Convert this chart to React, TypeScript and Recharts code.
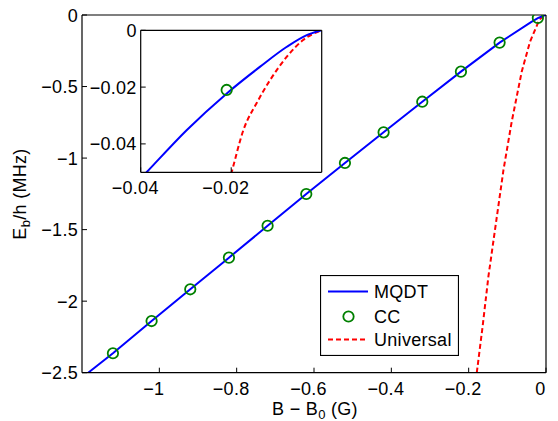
import { ComposedChart, Line, Scatter, XAxis, YAxis, Legend } from 'recharts';

// B - B0 (G) and Eb/h (MHz)
const mqdtB = [-1.184, -1.12, -1.02, -0.92, -0.82, -0.72, -0.62, -0.52, -0.42, -0.32, -0.22, -0.12, -0.0387, -0.0298, -0.0211, -0.0136, -0.0077, -0.0033, 0];
const mqdtE = [-2.5, -2.364, -2.139, -1.917, -1.696, -1.473, -1.251, -1.034, -0.82, -0.606, -0.396, -0.193, -0.05, -0.0351, -0.0224, -0.0128, -0.0058, -0.0017, 0];

const ccB = [-1.12, -1.02, -0.92, -0.82, -0.72, -0.62, -0.52, -0.42, -0.32, -0.22, -0.12, -0.021];
const ccE = [-2.364, -2.139, -1.917, -1.696, -1.473, -1.251, -1.034, -0.82, -0.606, -0.396, -0.193, -0.021];

const uniB = [-0.179, -0.164, -0.149, -0.132, -0.11, -0.0887, -0.0628, -0.0414, -0.0199, -0.0173, -0.0144, -0.0114, -0.0077, -0.0041, 0];
const uniE = [-2.5, -2.178, -1.829, -1.503, -1.083, -0.746, -0.396, -0.187, -0.05, -0.0351, -0.0257, -0.0175, -0.0093, -0.0034, 0];

const mainXTicks = [-1, -0.8, -0.6, -0.4, -0.2, 0];
const mainYTicks = [-2.5, -2, -1.5, -1, -0.5, 0];
const insetXTicks = [-0.04, -0.02];
const insetYTicks = [-0.04, -0.02, 0];

const FONT = 'Liberation Sans, Arial, Helvetica, sans-serif';
const FS = 18;

const toPts = (xs: number[], ys: number[]) => xs.map((x, i) => ({ x, y: ys[i] }));
const mqdt = toPts(mqdtB, mqdtE);
const cc = toPts(ccB, ccE);
const uni = toPts(uniB, uniE);
const ccInset = cc.filter(p => p.x >= -0.04);

function fmt(v: number): string {
  return v === 0 ? '0' : '\u2212' + Math.abs(v);
}

const txt = { fontFamily: FONT, fontSize: FS, fill: '#000', letterSpacing: 0.3 };

function makeXTick(drop: number) {
  return (p: any) => (
    <text x={p.x - 5.5} y={p.y + drop} textAnchor="middle" style={txt}>{fmt(p.payload.value)}</text>
  );
}
function YTick(p: any) {
  return (
    <text x={p.x - 4} y={p.y + 6.5} textAnchor="end" style={txt}>{fmt(p.payload.value)}</text>
  );
}

const circle = (p: any) => (
  <circle cx={p.cx} cy={p.cy} r={5.2} fill="none" stroke="#008000" strokeWidth={1.8} />
);

function LegendBox() {
  const rows = [16.5, 41.5, 64.5];
  return (
    <svg width={139} height={81} style={{ display: 'block' }}>
      <rect x={0.5} y={0.5} width={138} height={80} fill="#fff" stroke="#000" strokeWidth={1.2} />
      <line x1={8} x2={48} y1={rows[0]} y2={rows[0]} stroke="#0000ff" strokeWidth={2} />
      <circle cx={28.5} cy={rows[1]} r={5.2} fill="none" stroke="#008000" strokeWidth={1.8} />
      <line x1={8} x2={48} y1={rows[2]} y2={rows[2]} stroke="#ff0000" strokeWidth={2} strokeDasharray="5 3" />
      <text x={54} y={rows[0] + 6.5} style={txt}>MQDT</text>
      <text x={54} y={rows[1] + 6.5} style={txt}>CC</text>
      <text x={54} y={rows[2] + 6.5} style={txt}>Universal</text>
    </svg>
  );
}

const axisLine = { stroke: '#000', strokeWidth: 1.2 };
const tickLine = { stroke: '#000', strokeWidth: 1 };

export default function App() {
  return (
    <div style={{ position: 'absolute', left: 0, top: 0, width: 558, height: 421, background: '#fff' }}>
      <ComposedChart width={558} height={421} margin={{ top: 14, right: 11, bottom: 0, left: 0 }}>
        <XAxis xAxisId="b" type="number" dataKey="x" domain={[-1.2, 0]} ticks={mainXTicks} allowDataOverflow
          height={48.3} tickSize={-5} tickMargin={5} axisLine={axisLine} tickLine={tickLine} tick={makeXTick(22)}
          label={() => (
            <text x={315} y={415} textAnchor="middle" style={txt}>
              B {'\u2212'} B<tspan dy={4} fontSize={13}>0</tspan><tspan dy={-4}> (G)</tspan>
            </text>
          )} />
        <XAxis xAxisId="t" orientation="top" type="number" dataKey="x" domain={[-1.2, 0]} ticks={mainXTicks}
          allowDataOverflow height={1} tickSize={-5} axisLine={axisLine} tickLine={tickLine} tick={false} />
        <YAxis yAxisId="l" type="number" dataKey="y" domain={[-2.5, 0]} ticks={mainYTicks} allowDataOverflow
          width={82} tickSize={-5} tickMargin={5} axisLine={axisLine} tickLine={tickLine} tick={YTick}
          label={() => (
            <text x={26} y={194} transform="rotate(-90, 26, 194)" textAnchor="middle" style={txt}>
              E<tspan dy={4} fontSize={13}>b</tspan><tspan dy={-4}>/h (MHz)</tspan>
            </text>
          )} />
        <YAxis yAxisId="r" orientation="right" type="number" dataKey="y" domain={[-2.5, 0]} ticks={mainYTicks}
          allowDataOverflow width={1} tickSize={-5} axisLine={axisLine} tickLine={tickLine} tick={false} />
        <Line xAxisId="b" yAxisId="l" data={uni} dataKey="y" name="Universal" stroke="#ff0000" strokeWidth={2}
          strokeDasharray="5 3" dot={false} isAnimationActive={false} type="linear" />
        <Line xAxisId="b" yAxisId="l" data={mqdt} dataKey="y" name="MQDT" stroke="#0000ff" strokeWidth={2}
          dot={false} isAnimationActive={false} type="linear" />
        <Scatter xAxisId="b" yAxisId="l" data={cc} dataKey="y" name="CC" shape={circle} isAnimationActive={false} />
        <Legend verticalAlign="middle" align="center" layout="horizontal"
          wrapperStyle={{ left: 320, top: 275, width: 139, height: 81 }} content={() => <LegendBox />} />
      </ComposedChart>

      <div style={{ position: 'absolute', left: 70, top: 0, width: 260, height: 200 }}>
        <ComposedChart width={260} height={200} margin={{ top: 29.3, right: 7.3, bottom: 0, left: 0 }}>
          <XAxis xAxisId="b" type="number" dataKey="x" domain={[-0.04, 0]} ticks={insetXTicks} allowDataOverflow
            height={27.7} tickSize={-5} tickMargin={5} axisLine={axisLine} tickLine={tickLine} tick={makeXTick(21.5)} />
          <XAxis xAxisId="t" orientation="top" type="number" dataKey="x" domain={[-0.04, 0]} ticks={insetXTicks}
            allowDataOverflow height={1} tickSize={-5} axisLine={axisLine} tickLine={tickLine} tick={false} />
          <YAxis yAxisId="l" type="number" dataKey="y" domain={[-0.05, 0]} ticks={insetYTicks} allowDataOverflow
            width={70.7} tickSize={-5} tickMargin={5} axisLine={axisLine} tickLine={tickLine} tick={YTick} />
          <YAxis yAxisId="r" orientation="right" type="number" dataKey="y" domain={[-0.05, 0]} ticks={insetYTicks}
            allowDataOverflow width={1} tickSize={-5} axisLine={axisLine} tickLine={tickLine} tick={false} />
          <Line xAxisId="b" yAxisId="l" data={uni} dataKey="y" stroke="#ff0000" strokeWidth={2}
            strokeDasharray="5 3" dot={false} isAnimationActive={false} type="monotoneX" />
          <Line xAxisId="b" yAxisId="l" data={mqdt} dataKey="y" stroke="#0000ff" strokeWidth={2}
            dot={false} isAnimationActive={false} type="monotoneX" />
          <Scatter xAxisId="b" yAxisId="l" data={ccInset} dataKey="y" shape={circle} isAnimationActive={false} />
        </ComposedChart>
      </div>
    </div>
  );
}
